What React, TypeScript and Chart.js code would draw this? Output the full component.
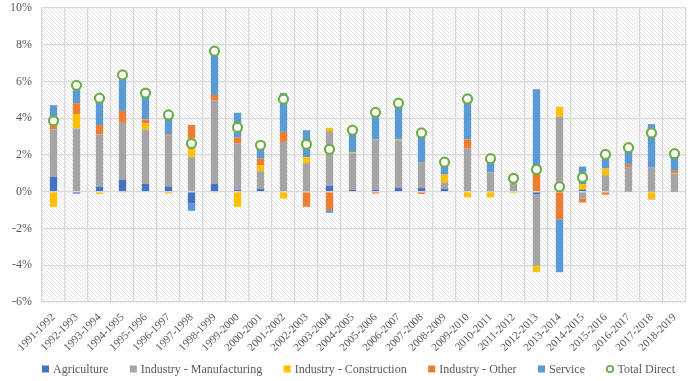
import React, { useEffect, useRef } from "react";
import { Chart, registerables } from "chart.js";

Chart.register(...registerables);

// Periods on the horizontal axis
const categories = [
  "1991-1992", "1992-1993", "1993-1994", "1994-1995", "1995-1996", "1996-1997", "1997-1998",
  "1998-1999", "1999-2000", "2000-2001", "2001-2002", "2002-2003", "2003-2004", "2004-2005",
  "2005-2006", "2006-2007", "2007-2008", "2008-2009", "2009-2010", "2010-2011", "2011-2012",
  "2012-2013", "2013-2014", "2014-2015", "2015-2016", "2016-2017", "2017-2018", "2018-2019",
];

// Contributions by sector, in percent
const agriculture = [
  0.82, -0.1, 0.27, 0.64, 0.42, 0.29, -0.64, 0.42, 0.1, 0.15, 0.05, 0.03, 0.33, 0.1,
  0.1, 0.2, 0.2, 0.15, 0.05, 0.03, 0.0, -0.15, 0.0, 0.12, 0.05, 0.02, 0.02, 0.02,
];
const manufacturing = [
  2.57, 3.44, 2.84, 3.11, 2.97, 2.79, 1.88, 4.54, 2.52, 0.97, 2.66, 1.53, 2.97, 2.0,
  2.74, 2.6, 1.41, 0.36, 2.29, 1.03, 0.45, -3.88, 4.08, -0.38, 0.85, 1.32, 1.32, 0.95,
];
const construction = [
  -0.82, 0.79, -0.12, -0.05, 0.33, -0.1, 1.01, -0.05, -0.82, 0.31, -0.37, 0.32, 0.18, 0.05,
  0.0, 0.05, 0.0, 0.42, -0.31, -0.31, -0.08, -0.35, 0.55, 0.3, 0.36, 0.0, -0.37, 0.02,
];
const otherIndustry = [
  0.23, 0.59, 0.52, 0.65, 0.22, 0.05, 0.74, 0.31, 0.33, 0.37, 0.55, -0.82, -1.0, 0.0,
  -0.1, 0.0, -0.12, 0.0, 0.5, 0.0, 0.05, 1.0, -1.5, -0.21, -0.16, 0.13, -0.05, 0.15,
];
const service = [
  1.09, 1.0, 1.46, 1.96, 1.43, 1.1, -0.4, 2.38, 1.35, 0.64, 2.11, 1.47, -0.15, 1.2,
  1.52, 1.97, 1.59, 0.59, 2.43, 0.85, 0.2, 4.58, -2.88, 0.95, 0.54, 0.97, 2.34, 0.95,
];
const totalDirect = [
  3.86, 5.79, 5.09, 6.36, 5.37, 4.18, 2.62, 7.65, 3.5, 2.53, 5.04, 2.58, 2.31, 3.35,
  4.32, 4.82, 3.2, 1.61, 5.05, 1.8, 0.73, 1.21, 0.27, 0.78, 2.03, 2.4, 3.2, 2.07,
];

// Value axis ticks
const yMin = -6;
const yMax = 10;
const yStep = 2;

const FONT = "'Liberation Serif', 'Times New Roman', serif";
const TEXT = "#595959";
const GRID = "#d9d9d9";
const TOTAL_GREEN = "#70AD47";

// Fills the plotting area with fine diagonal hatching
const hatchPlugin = {
  id: "hatchBackground",
  beforeDraw(chart: any) {
    const { ctx, chartArea } = chart;
    if (!chartArea) return;
    const tile = document.createElement("canvas");
    const s = 4;
    tile.width = s;
    tile.height = s;
    const t = tile.getContext("2d")!;
    t.fillStyle = "#ffffff";
    t.fillRect(0, 0, s, s);
    t.strokeStyle = "#e4e4e4";
    t.lineWidth = 1;
    t.beginPath();
    t.moveTo(-1, -1);
    t.lineTo(s + 1, s + 1);
    t.stroke();
    const pattern = ctx.createPattern(tile, "repeat");
    ctx.save();
    ctx.fillStyle = pattern;
    ctx.fillRect(chartArea.left, chartArea.top, chartArea.right - chartArea.left, chartArea.bottom - chartArea.top);
    ctx.restore();
  },
};

// One-row legend spread under the plot: square swatches for the sectors,
// a hollow ring for the total
const LEGEND_LEFT = 42;
const LEGEND_RIGHT = 675;
const LEGEND_Y = 369;
const legendPlugin = {
  id: "sectorLegend",
  afterDraw(chart: any) {
    const { ctx } = chart;
    const sets = chart.data.datasets;
    ctx.save();
    ctx.font = `12px ${FONT}`;
    ctx.textBaseline = "middle";
    ctx.textAlign = "left";
    const swatch = 7;
    const gapText = 4;
    const widths = sets.map((ds: any) => swatch + gapText + ctx.measureText(ds.label).width);
    const used = widths.reduce((a: number, b: number) => a + b, 0);
    const gap = (LEGEND_RIGHT - LEGEND_LEFT - used) / (sets.length - 1);
    let x = LEGEND_LEFT;
    sets.forEach((ds: any, i: number) => {
      if (ds.type === "line") {
        ctx.beginPath();
        ctx.arc(x + swatch / 2, LEGEND_Y, 3.2, 0, Math.PI * 2);
        ctx.fillStyle = "#ffffff";
        ctx.fill();
        ctx.lineWidth = 1.8;
        ctx.strokeStyle = TOTAL_GREEN;
        ctx.stroke();
      } else {
        ctx.fillStyle = ds.backgroundColor;
        ctx.fillRect(x, LEGEND_Y - swatch / 2, swatch, swatch);
      }
      ctx.fillStyle = TEXT;
      ctx.fillText(ds.label, x + swatch + gapText, LEGEND_Y + 0.5);
      x += widths[i] + gap;
    });
    ctx.restore();
  },
};

export default function App() {
  const canvasRef = useRef<HTMLCanvasElement | null>(null);

  useEffect(() => {
    if (!canvasRef.current) return;
    const bar = (label: string, data: number[], color: string) => ({
      type: "bar" as const,
      label,
      data,
      backgroundColor: color,
      borderWidth: 0,
      stack: "sectors",
      order: 1,
      barPercentage: 0.32,
      categoryPercentage: 1,
    });

    const chart = new Chart(canvasRef.current, {
      type: "bar",
      data: {
        labels: categories,
        datasets: [
          bar("Agriculture", agriculture, "#4472C4"),
          bar("Industry - Manufacturing", manufacturing, "#A5A5A5"),
          bar("Industry - Construction", construction, "#FFC000"),
          bar("Industry - Other", otherIndustry, "#ED7D31"),
          bar("Service", service, "#5B9BD5"),
          {
            type: "line" as const,
            label: "Total Direct",
            data: totalDirect,
            stack: "total",
            order: 0,
            showLine: false,
            pointRadius: 4.5,
            pointHoverRadius: 4.5,
            pointBorderWidth: 2.2,
            borderColor: TOTAL_GREEN,
            pointBorderColor: TOTAL_GREEN,
            backgroundColor: "#ffffff",
            pointBackgroundColor: "#ffffff",
          } as any,
        ],
      },
      options: {
        animation: false,
        responsive: true,
        maintainAspectRatio: false,
        layout: { autoPadding: false, padding: { left: 0, right: 8, top: 0, bottom: 18 } },
        plugins: {
          tooltip: { enabled: false },
          legend: { display: false },
        },
        scales: {
          x: {
            stacked: true,
            grid: { color: GRID, lineWidth: 1.3, drawTicks: false, offset: true },
            border: { color: GRID, width: 1.3 },
            ticks: {
              color: TEXT,
              font: { family: FONT, size: 11 },
              minRotation: 45,
              maxRotation: 45,
              autoSkip: false,
              padding: 9,
            },
          },
          y: {
            stacked: true,
            min: yMin,
            max: yMax,
            grid: { color: GRID, lineWidth: 1.3, drawTicks: false },
            border: { color: GRID, width: 1.3 },
            afterFit: (scale: any) => {
              scale.paddingTop = 8;
              scale.paddingBottom = 8;
            },
            ticks: {
              stepSize: yStep,
              color: TEXT,
              font: { family: FONT, size: 12 },
              padding: 10,
              callback: (v: any) => `${v}%`,
            },
          },
        },
      },
      plugins: [hatchPlugin, legendPlugin],
    } as any);

    return () => chart.destroy();
  }, []);

  return (
    <div style={{ position: "absolute", left: 0, top: 0, width: 694, height: 381, background: "#ffffff" }}>
      <canvas ref={canvasRef} />
    </div>
  );
}
